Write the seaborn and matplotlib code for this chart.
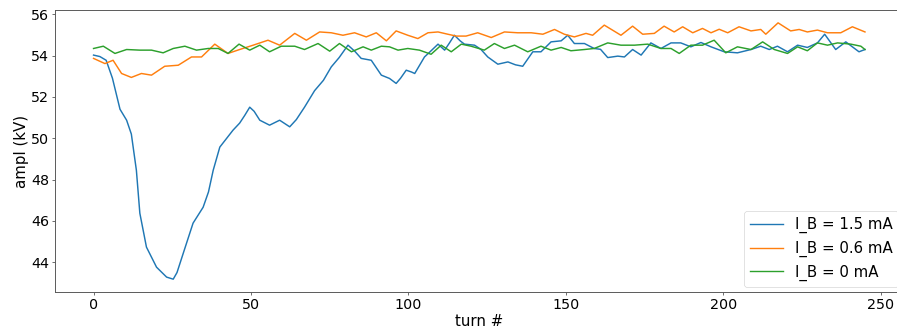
import matplotlib
matplotlib.use("Agg")
import matplotlib.pyplot as plt
import seaborn as sns
import pandas as pd

# ---- data ----
turn_15 = [0, 2, 4, 6, 8.4, 10.5, 12, 13.6, 14.7, 16.8, 20, 23.2, 25.3, 26.5, 28.5, 31.6, 34.8, 36.5, 38,
           40.1, 44.3, 46.4, 48, 49.6, 51, 52.8, 55.9, 59.1, 62.3, 64.4, 67, 70.2, 73, 75.5, 78, 80.8, 83,
           85, 88.2, 91.4, 94, 96.1, 97.5, 99.3, 101, 102, 105.1, 107, 109.4, 111.5, 113, 114.6, 116.5,
           117.8, 121, 123, 125.2, 128.4, 131.6, 134, 136.3, 139.5, 142.1, 145.3, 148.5, 150.6, 152.7,
           155.9, 159, 161, 163.3, 166.5, 168.6, 171.2, 173.9, 177, 180.2, 183.4, 186.5, 189.7, 192.9,
           196.1, 200.3, 204.5, 208.8, 211.9, 214.6, 217.2, 220.4, 223.6, 226.7, 229.9, 232.2, 235.7,
           238.9, 243.1, 245]
ampl_15 = [54.02, 53.95, 53.77, 52.9, 51.4, 50.87, 50.2, 48.45, 46.37, 44.73, 43.76, 43.28, 43.18, 43.5,
           44.44, 45.89, 46.66, 47.4, 48.45, 49.57, 50.39, 50.73, 51.1, 51.5, 51.3, 50.87, 50.63, 50.87,
           50.55, 50.9, 51.5, 52.3, 52.8, 53.45, 53.9, 54.5, 54.2, 53.86, 53.77, 53.05, 52.89, 52.65,
           52.9, 53.29, 53.2, 53.13, 53.93, 54.2, 54.55, 54.26, 54.6, 54.98, 54.7, 54.55, 54.5, 54.3,
           53.93, 53.58, 53.69, 53.55, 53.48, 54.18, 54.18, 54.66, 54.71, 54.98, 54.58, 54.58, 54.34,
           54.3, 53.9, 53.97, 53.93, 54.29, 54.02, 54.61, 54.34, 54.61, 54.61, 54.42, 54.63, 54.42,
           54.18, 54.13, 54.29, 54.45, 54.29, 54.45, 54.18, 54.5, 54.39, 54.61, 55.03, 54.29, 54.66,
           54.18, 54.29]

turn_06 = [0, 3.6, 6.2, 8.9, 12, 15.2, 18.4, 22.6, 26.9, 31.1, 34.3, 38.5, 42.7, 46.4, 50.7, 55.4, 59.1,
           63.9, 67.6, 71.8, 75.5, 79.2, 82.9, 86.6, 89.8, 93, 96.1, 99.8, 103, 106.2, 109.4, 112.5,
           115.2, 118.3, 122, 126.3, 130.5, 134.7, 139, 142.7, 146.4, 149.5, 152.7, 156.4, 158.5, 162.2,
           167.5, 171.2, 174.4, 178.1, 181.2, 184.4, 187.1, 190.3, 193.4, 196.1, 198.7, 201.4, 205,
           208.8, 211.9, 213.5, 217.4, 221.4, 224.1, 226.7, 229.9, 233.1, 237.3, 241, 245]
ampl_06 = [53.86, 53.61, 53.77, 53.13, 52.94, 53.13, 53.05, 53.48, 53.53, 53.93, 53.93, 54.55, 54.1,
           54.29, 54.5, 54.74, 54.5, 55.07, 54.74, 55.14, 55.1, 54.98, 55.1, 54.9, 55.1, 54.71, 55.19,
           54.98, 54.82, 55.1, 55.14, 55.03, 54.94, 54.94, 55.1, 54.87, 55.14, 55.1, 55.1, 55.03, 55.26,
           55.03, 54.9, 55.07, 54.98, 55.47, 54.98, 55.42, 55.03, 55.07, 55.42, 55.14, 55.39, 55.1,
           55.31, 55.1, 55.27, 55.1, 55.39, 55.19, 55.26, 55.03, 55.58, 55.19, 55.26, 55.14, 55.23,
           55.1, 55.1, 55.39, 55.14]

turn_00 = [0, 3.1, 6.8, 10.5, 14.7, 18.4, 22.1, 25.3, 29, 32.7, 36.4, 39.6, 42.7, 46.2, 49.6, 52.8, 55.9,
           59.6, 63.9, 67, 71.3, 75, 78.1, 81.9, 85.6, 88.2, 91.4, 94, 96.7, 99.8, 103.5, 107.2, 110.4,
           113.6, 116.8, 119.9, 124.1, 127.3, 130.5, 133.7, 137.9, 142.1, 145.3, 148.5, 151.6, 155.9,
           159, 163.3, 167.5, 171.8, 176, 180.2, 183.4, 186, 189.7, 193.4, 197.1, 200.8, 204.5, 208.8,
           212.5, 216.2, 220.4, 223.6, 226.7, 229.9, 233.1, 236.3, 240.5, 243.7, 245]
ampl_00 = [54.34, 54.45, 54.1, 54.29, 54.26, 54.26, 54.13, 54.34, 54.45, 54.26, 54.34, 54.34, 54.1,
           54.55, 54.26, 54.5, 54.18, 54.45, 54.45, 54.29, 54.58, 54.21, 54.58, 54.18, 54.42, 54.26,
           54.45, 54.42, 54.26, 54.34, 54.26, 54.06, 54.5, 54.18, 54.55, 54.45, 54.26, 54.58, 54.34,
           54.5, 54.18, 54.45, 54.26, 54.39, 54.23, 54.29, 54.34, 54.61, 54.5, 54.5, 54.55, 54.34,
           54.34, 54.1, 54.5, 54.5, 54.74, 54.13, 54.42, 54.29, 54.66, 54.29, 54.1, 54.42, 54.23,
           54.61, 54.5, 54.61, 54.55, 54.45, 54.29]

labels = ["I_B = 1.5 mA", "I_B = 0.6 mA", "I_B = 0 mA"]
xticks = [0, 50, 100, 150, 200, 250]
yticks = [44, 46, 48, 50, 52, 54, 56]

frames = []
for lab, t, a in zip(labels, [turn_15, turn_06, turn_00], [ampl_15, ampl_06, ampl_00]):
    frames.append(pd.DataFrame({"turn": t, "ampl": a, "series": lab}))
df = pd.concat(frames, ignore_index=True)

# ---- figure ----
plt.rcParams["font.family"] = ["DejaVu Sans"]
fig = plt.figure(figsize=(8.97, 3.29), dpi=100)
ax = fig.add_axes([0.0613, 0.1125, 0.946, 0.857])

palette = ["#1f77b4", "#ff7f0e", "#2ca02c"]
sns.lineplot(data=df, x="turn", y="ampl", hue="series", hue_order=labels,
             palette=palette, linewidth=1.05, ax=ax, estimator=None, sort=True)

ax.set_xlabel("turn #", fontsize=10.8, labelpad=2)
ax.set_ylabel("ampl (kV)", fontsize=10.8, labelpad=2)
ax.set_xticks(xticks)
ax.set_yticks(yticks)
ax.tick_params(labelsize=10.3, length=2, width=0.6, pad=2, color="#555555")
for s in ax.spines.values():
    s.set_linewidth(0.7)
    s.set_color("#5a5a5a")
ax.spines["right"].set_visible(False)

leg = ax.legend(loc="lower right", fontsize=10.8, title=None,
                borderaxespad=0.35, handlelength=2.2)
leg.get_frame().set_linewidth(0.5)
for h in leg.get_lines():
    h.set_linewidth(1.0)

fig.savefig("out.png", dpi=100)
